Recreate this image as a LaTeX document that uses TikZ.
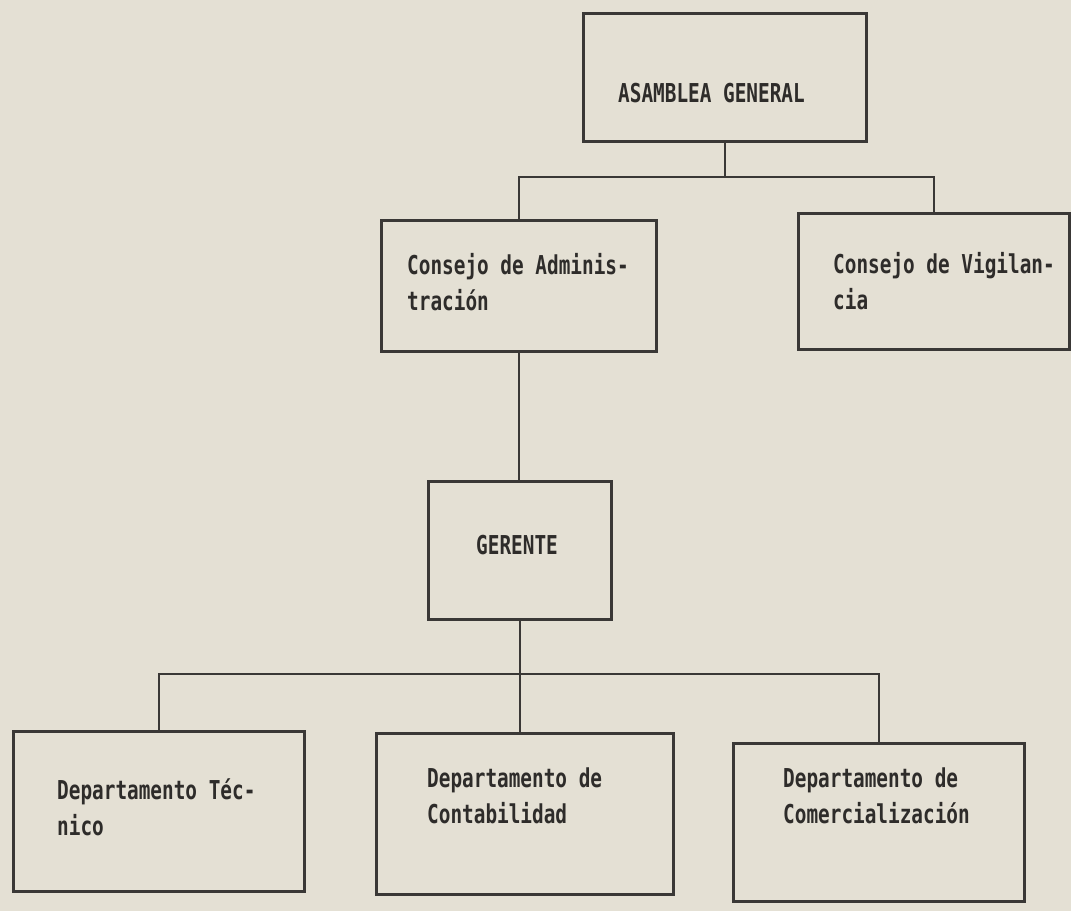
\documentclass[tikz,border=0pt]{standalone}
\usepackage{fontspec}
\newfontfamily\tw[FakeStretch=0.745]{DejaVu Sans Mono}
\definecolor{bgc}{HTML}{E4E0D4}
\definecolor{linec}{HTML}{3A3836}
\definecolor{textc}{HTML}{2E2C2A}
\begin{document}
\begin{tikzpicture}[x=1pt,y=-1pt,
  box/.style={draw=linec, line width=2.8pt, anchor=north west, inner sep=0pt},
  conn/.style={draw=linec, line width=2.6pt},
  lbl/.style={font=\tw\bfseries\fontsize{26}{36}\selectfont, text=textc, inner sep=0pt, align=left, anchor=north west},
  lbl1/.style={lbl, anchor=west}]
\fill[bgc] (0,0) rectangle (1071,911);
\useasboundingbox (0,0) rectangle (1071,911);
% boxes
\node[box, minimum width=283pt, minimum height=128pt] (ag) at (582,12) {};
\node[box, minimum width=275pt, minimum height=131pt] (ca) at (380,219) {};
\node[box, minimum width=271pt, minimum height=136pt] (vg) at (797,212) {};
\node[box, minimum width=183pt, minimum height=138pt] (ge) at (427,480) {};
\node[box, minimum width=291pt, minimum height=160pt] (dt) at (12,730) {};
\node[box, minimum width=297pt, minimum height=161pt] (dc) at (375,732) {};
\node[box, minimum width=291pt, minimum height=158pt] (dm) at (732,742) {};
% texts
\node[lbl1] (tag) at (618,93) {ASAMBLEA GENERAL};
\node[lbl1] (tge) at (476,545) {GERENTE};
\node[lbl] (tca) at (407,253) {Consejo de Adminis-\\tración};
\node[lbl] (tvg) at (833,252) {Consejo de Vigilan-\\cia};
\node[lbl] (tdt) at (57,778) {Departamento Téc-\\nico};
\node[lbl] (tdc) at (427,768) {Departamento de\\Contabilidad};
\node[lbl] (tdm) at (783,768) {Departamento de\\Comercialización};
% connectors
\coordinate (bus1) at (724,177);
\coordinate (bus2) at (518,674);
\draw[conn] (ag.south) -- (ag.south |- bus1);
\draw[conn] (ca.north) |- (bus1) -| (vg.north);
\draw[conn] (ca.south) -- (ca.south |- ge.north);
\draw[conn] (ge.south) -- (ge.south |- bus2);
\draw[conn] (dt.north) |- (bus2) -| (dm.north);
\draw[conn] (ge.south |- bus2) -- (ge.south |- dc.north);
\end{tikzpicture}
\end{document}
